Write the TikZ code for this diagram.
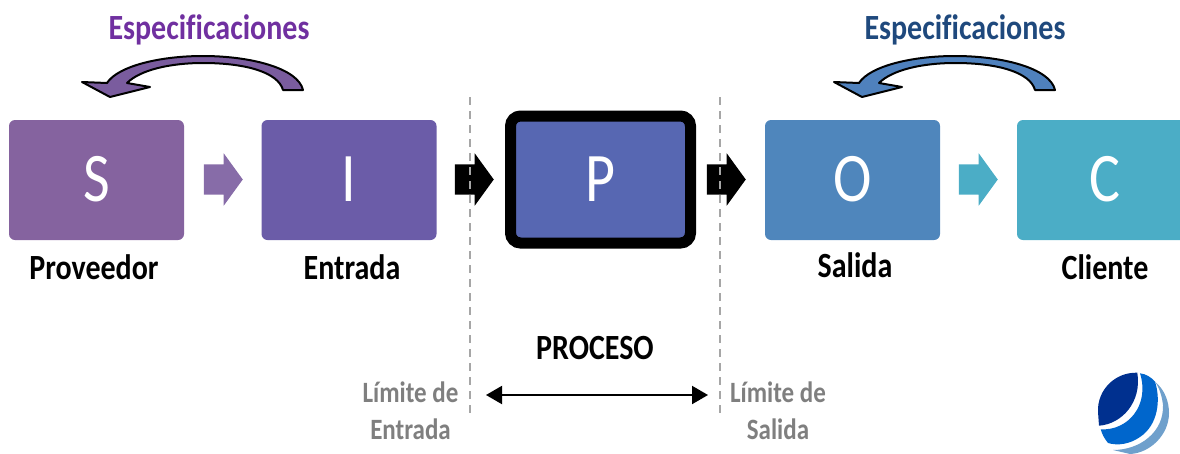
\documentclass[tikz,border=0pt]{standalone}
\usepackage{graphicx}
\usepackage{fontspec}
\setmainfont[Ligatures=NoCommon]{Carlito}
\usetikzlibrary{arrows.meta,shapes.arrows}
\definecolor{cS}{HTML}{85639F}
\definecolor{cI}{HTML}{6B5CA8}
\definecolor{cP}{HTML}{5767B2}
\definecolor{cO}{HTML}{4F86BC}
\definecolor{cC}{HTML}{4BADC6}
\definecolor{cPurple}{HTML}{7030A0}
\definecolor{cNavy}{HTML}{1F497D}
\definecolor{cBend}{HTML}{7A5C9E}
\definecolor{cBlue}{HTML}{4F81BD}
\definecolor{cLimit}{HTML}{7F7F7F}
\definecolor{cLogoA}{HTML}{00308F}
\definecolor{cLogoB}{HTML}{0066CC}
\definecolor{cLogoC}{HTML}{6FA0CC}
\newcommand{\tall}[1]{\raisebox{1.5pt}{\scalebox{1}[1.2]{#1}}}
\tikzset{
	box/.style={rounded corners=6pt,minimum width=175pt,minimum height=120pt,inner sep=0pt,text=white,font=\fontsize{58}{58}\selectfont},
	flow/.style={single arrow,single arrow head extend=11pt,single arrow tip angle=108,inner xsep=0pt,inner ysep=15pt,minimum width=52pt,minimum height=39pt,anchor=tip},
	label/.style={transform shape,yscale=1.18,font=\fontsize{30}{30}\selectfont\bfseries},
	limit/.style={transform shape,yscale=1.18,font=\fontsize{25}{31.5}\selectfont\bfseries,text=cLimit,align=center},
	bound/.style={dashed,dash pattern=on 8pt off 6pt,line width=1.2pt,draw=black!35},
}
\begin{document}
\begin{tikzpicture}[x=1pt,y=-1pt]
	\clip(0,0)rectangle(1180,453);
	\coordinate(A1)at(470,97);
	\coordinate(A2)at(470,415);
	\coordinate(B1)at(720,97);
	\coordinate(B2)at(720,415);
	\coordinate(L)at(486,395);
	\coordinate(R)at(708,395);
	% boxes
	\node[box,fill=cS](S)at(96.5,180){\tall{S}};
	\node[box,fill=cI](I)at(349,180){\tall{I}};
	\node[box,minimum width=180pt,minimum height=127pt,line width=11pt,draw=black,rounded corners=10pt,fill=cP](P)at(600.5,179.5){\tall{P}};
	\node[box,fill=cO](O)at(852.5,180){\tall{O}};
	\node[box,fill=cC](C)at(1104.5,180){\tall{C}};
	% arrows between boxes
	\node[flow,fill=cBend!90](a1)at(243,179.5){};
	\node[flow,fill=black](a2)at(494,179.5){};
	\node[flow,fill=black](a3)at(746,179.5){};
	\node[flow,fill=cC](a4)at(998,179.5){};
	\draw[bound](A1)--(A2);
	\draw[bound](B1)--(B2);
	\draw[{Triangle[length=16pt,width=18pt]}-{Triangle[length=16pt,width=18pt]},line width=2pt](L)--(R);
	% labels
	\node[label](tS)at(94,267.5){Proveedor};
	\node[label](tI)at(352,267.5){Entrada};
	\node[label](tO)at(855,265.5){Salida};
	\node[label](tC)at(1105,267.5){Cliente};
	\node[label](tP)at(595,348){PROCESO};
	\node[label,text=cPurple](sp1)at(209,30){Especificaciones};
	\node[label,text=cNavy](sp2)at(965,30){Especificaciones};
	\node[limit](lim1)at(410.5,411){Límite de\\Entrada};
	\node[limit](lim2)at(778,411){Límite de\\Salida};
	% bent arrows
	\foreach\dx/\c in{0/cBend,752/cBlue}{
		\draw[xshift=\dx pt,fill=\c,line width=2pt,line join=round](303,90)
			.. controls(298,68)and(250,56) .. (203,56)
			.. controls(160,56)and(118,66) .. (107,83)
			--(82,82)--(110,97)--(150,87)--(127,83)
			.. controls(140,70)and(170,63) .. (203,63)
			.. controls(245,63)and(278,72) .. (283,90)--cycle;
	}
	% logo
	\fill[cLogoC](1155,381.7).. controls(1165,390)and(1169,402) .. (1169,413)
		.. controls(1169,435)and(1150,453) .. (1130,454)--(1113,450)
		.. controls(1140,450)and(1164,432) .. (1163,405)
		.. controls(1162,397)and(1160,389) .. (1155,381.7)--cycle;
	\fill[cLogoB](1140,373.3).. controls(1146,374)and(1151,377) .. (1155,381.7)
		.. controls(1161,400)and(1158,425) .. (1140,437)
		.. controls(1130,444)and(1118,446) .. (1108,443)
		.. controls(1104,438)and(1102,434) .. (1100.7,429.3)
		.. controls(1128,431)and(1150,405) .. (1140,373.3)--cycle;
	\fill[cLogoA](1137.3,372.7).. controls(1115,372)and(1097,390) .. (1098,412)
		--(1099,425.7).. controls(1122,424)and(1142,402) .. (1137.3,372.7)--cycle;
\end{tikzpicture}
\end{document}
